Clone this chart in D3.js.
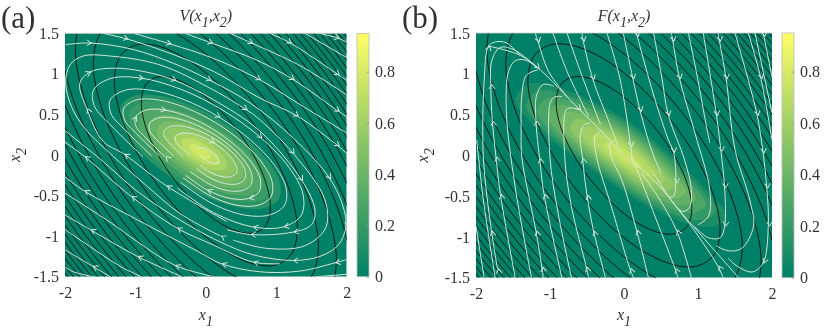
<!DOCTYPE html>
<html>
<head>
<meta charset="utf-8">
<script src="https://d3js.org/d3.v7.min.js"></script>
<style>
body { margin: 0; background: #fff; }
svg { display: block; filter: blur(0.35px); }
text { font-family: "Liberation Serif", serif; fill: #333; }
</style>
</head>
<body>
<div id="graphbody"></div>
<script>
var x1Ticks = [-2, -1, 0, 1, 2];
var x2Ticks = [-1.5, -1, -0.5, 0, 0.5, 1, 1.5];
var barTicks = [0, 0.2, 0.4, 0.6, 0.8];
var barMax = 0.95;
var barColors = ['#008066', '#ffff66'];

var ringOutline = [[-0.908,0.645],[-0.85,0.853],[-0.7,0.947],[-0.5,0.945],[-0.25,0.857],[0,0.707],[0.25,0.5],[0.5,0.235],[0.7,-0.047],[0.85,-0.355],[0.908,-0.645],[0.85,-0.853],[0.7,-0.947],[0.5,-0.945],[0.25,-0.857],[0,-0.707],[-0.25,-0.5],[-0.5,-0.235],[-0.7,0.047],[-0.85,0.355]];
var ringSizes = [1.01,1.43,1.76,2.04,2.27,2.48,2.68,2.86,3.03,3.2,3.35,3.5,3.64,3.78,3.91,4.04,4.16,4.28,4.4,4.52,4.63,4.74];

// filled bands: value shown, and size of the band edge relative to the outline
var vOutline = [[-0.877,0.461],[-0.727,0.545],[-0.467,0.545],[-0.136,0.463],[0.216,0.31],[0.536,0.109],[0.773,-0.107],[0.893,-0.307],[0.877,-0.461],[0.727,-0.545],[0.467,-0.545],[0.136,-0.463],[-0.216,-0.31],[-0.536,-0.109],[-0.773,0.107],[-0.893,0.307]];
var vBandValues = [0.15,0.22,0.3,0.38,0.46,0.54,0.62,0.7,0.78];
var vBandSizes = [1.27,1.12,0.97,0.82,0.68,0.55,0.42,0.3,0.17];
var vBandShift = [-0.08, 0.04];
var fOutline = [[-1.47,0.68],[-1.29,0.88],[-0.93,0.84],[-0.57,0.72],[-0.03,0.47],[0.51,0.1],[1.14,-0.45],[1.39,-0.75],[1.23,-0.87],[0.91,-0.85],[0.33,-0.63],[-0.3,-0.26],[-0.89,0.12],[-1.29,0.43]];
var fBandValues = [0.1,0.19,0.28,0.36,0.44,0.52,0.6,0.67,0.74];
var fBandSizes = [1,0.9,0.8,0.7,0.6,0.5,0.4,0.3,0.18];
var fBandShift = [0, 0];

// inner white loops of panel a: one loop outline, then size, centre and arrow spots of each loop
var loopOutline = [[-0.877,0.461],[-0.727,0.545],[-0.467,0.545],[-0.136,0.463],[0.216,0.31],[0.536,0.109],[0.773,-0.107],[0.893,-0.307],[0.877,-0.461],[0.727,-0.545],[0.467,-0.545],[0.136,-0.44],[-0.17,-0.26],[-0.46,-0.03],[-0.72,0.19],[-0.87,0.34]];
var loopSizes = [0.49,0.65,0.82,1,1.19,1.41,1.68];
var loopShiftX = [0,-0.02,-0.08,-0.12,-0.12,-0.12,-0.12];
var loopShiftY = [0,0,0.01,0.01,0.03,0.03,0.03];
var loopHeads = [[4],[],[],[0,2,9,11,13],[],[4],[2,5,9,10]];

// streamlines in x1,x2 units, in flow order; a third entry marks an arrow head
var vStreams = [
  [[1.6,1.5],[1.88,1.44,1],[2,1.39]],
  [[1.41,1.5],[2,1.2]],
  [[0.91,1.5],[1.2,1.38,1],[1.88,0.99,1],[2,0.92]],
  [[0.34,1.5],[0.65,1.38,1],[1.34,1.1],[2,0.74]],
  [[-0.3,1.5],[0.08,1.38,1],[0.72,1.17],[1.24,0.93,1],[1.88,0.54,1],[2,0.47]],
  [[-1.03,1.5],[-0.51,1.37,1],[0.11,1.19],[0.76,0.93,1],[1.34,0.62],[2,0.27]],
  [[-1.46,1.5],[-1.12,1.43,1],[-0.56,1.27],[0.11,1.03],[0.77,0.7],[1.3,0.48,1],[1.88,0.11,1],[2,0.02]],
  [[-2,1.36],[-1.64,1.38,1],[-1.03,1.3],[-0.46,1.13],[0.06,0.92,1],[0.63,0.64],[1.24,0.21],[1.76,-0.29,1],[1.95,-0.64],[1.99,-0.88,1],[1.88,-1.11],[1.62,-1.25],[1.23,-1.3,1],[0.67,-1.23],[0.2,-1.07],[-0.37,-0.8],[-0.97,-0.45],[-1.5,-0.05],[-2,0.3]],
  [[0.21,-1,1],[-0.37,-0.72],[-0.84,-0.38],[-1.31,-0.02],[-1.72,0.33],[-1.91,0.6],[-1.99,0.88],[-1.93,1.11],[-1.74,1.22],[-1.36,1.22],[-0.65,1.11],[0.11,0.8],[0.57,0.56,1],[0.72,0.47],[1.24,0.02,1],[1.69,-0.55],[1.7,-0.9],[1.4,-1.12],[0.86,-1.15],[0.39,-1.05]],
  [[0.3,-0.82],[-0.56,-0.38,1],[-1.16,0.01,1],[-1.46,0.17],[-1.69,0.57,1],[-1.79,0.88],[-1.65,1.02,1],[-1.31,1.07],[-0.89,1.03],[-0.44,0.92,1],[0.11,0.68],[0.76,0.3],[1.36,-0.31,1],[1.55,-0.68],[1.5,-0.86],[1.24,-0.95,1],[0.63,-0.98,1],[0.3,-0.92]],
  [[-0.13,0.08],[-0.04,0.09],[0.15,-0.02],[0.19,-0.1],[0.06,-0.09],[-0.08,-0.01]],
  [[-1.6,-1.5],[-1.88,-1.44],[-2,-1.38]],
  [[-1.36,-1.5],[-1.61,-1.37,1],[-2,-1.17]],
  [[-0.91,-1.5],[-1.2,-1.38],[-1.88,-0.99],[-2,-0.92]],
  [[-0.34,-1.5],[-0.97,-1.25,1],[-1.64,-0.92,1],[-2,-0.74]],
  [[0.11,-1.5],[-0.44,-1.36,1],[-0.97,-1.07],[-1.34,-0.84],[-2,-0.47]],
  [[2,-1.29],[1.83,-1.33,1],[1.34,-1.43],[0.77,-1.44],[0.22,-1.34,1],[-0.11,-1.19],[-0.97,-0.8],[-1.73,-0.44,1],[-2,-0.27]],
  [[1.05,-1.34],[0.67,-1.32,1],[0.11,-1.11],[-0.41,-0.9,1],[-1.06,-0.51,1],[-1.72,-0.02,1],[-2,0.16]],
  [[2,-1.47],[1.57,-1.5]]
];

var fStreams = [
  [[-1.2,1.5],[-1.16,1.39,1],[-1.02,1.03],[-0.77,0.72]],
  [[-0.96,1.5],[-0.77,1.03],[-0.48,0.48]],
  [[-0.77,1.5],[-0.59,1.03],[-0.32,0.38]],
  [[-0.57,1.5],[-0.55,1.4,1],[-0.42,0.93,1],[-0.19,0.38],[-0.08,0.11]],
  [[-0.23,1.5],[-0.05,0.92],[0.09,0.11,1],[0.11,-0.06]],
  [[-0.01,1.5],[0.12,0.94,1],[0.22,0.54,1],[0.37,0.07],[0.5,-0.22]],
  [[0.17,1.5],[0.18,1.46,1],[0.42,0.68],[0.6,0.19],[0.67,0.04,1],[0.7,-0.34,1],[0.67,-0.5],[0.62,-0.51]],
  [[0.4,1.5],[0.51,0.96],[0.6,0.49,1],[0.82,-0.06],[0.91,-0.42],[0.89,-0.63],[0.8,-0.69],[0.71,-0.64]],
  [[0.64,1.5],[0.66,1.4,1],[0.75,0.94,1],[0.96,0.27],[1.16,-0.43],[1.14,-0.75],[1,-0.85]],
  [[0.87,1.5],[1,0.92],[1.09,0.47],[1.16,0.15]],
  [[1.07,1.5],[1.25,0.49,1],[1.31,0.05,1],[1.36,-0.4,1],[1.36,-0.87,1],[1.3,-1.01],[1.14,-1.01],[0.95,-0.87]],
  [[1.27,1.5],[1.29,1.4,1],[1.38,0.94,1],[1.5,0.07],[1.7,-0.55],[1.75,-0.87],[1.59,-1.14],[1.41,-1.17],[1.25,-1.11]],
  [[1.5,1.5],[1.68,0.92],[1.8,0.49,1],[1.88,0.03,1],[1.93,-0.4,1],[1.95,-0.87,1],[1.88,-1.32,1],[1.73,-1.43],[1.5,-1.34],[1.41,-1.26]],
  [[1.68,1.5],[1.85,0.94,1],[2,0.19]],
  [[1.77,1.5],[2,0.52]],
  [[1.88,1.5],[1.89,1.46,1],[2,0.96]],
  [[-1.71,-1.39,1],[-1.79,-0.93,1],[-1.9,-0.03],[-1.89,0.91],[-1.83,1.34,1],[-1.74,1.39],[-1.59,1.38],[-1.41,1.23]],
  [[-1.47,-1.5],[-1.67,-0.48,1],[-1.73,-0.02,1],[-1.78,0.42,1],[-1.8,0.87,1],[-1.79,1.15],[-1.68,1.32],[-1.5,1.3],[-1.16,1.07]],
  [[-1.25,-1.5],[-1.47,-0.39],[-1.59,0.54],[-1.56,1.03],[-1.47,1.16],[-1.34,1.17],[-1.16,1.07]],
  [[-1.09,-1.5],[-1.11,-1.37,1],[-1.19,-0.93,1],[-1.38,-0.03],[-1.39,0.27],[-1.38,0.74],[-1.32,0.98],[-1.16,1.05]],
  [[-0.84,-1.5],[-1.08,-0.48,1],[-1.14,-0.04,1],[-1.19,0.42,1],[-1.18,0.74],[-1.09,0.87],[-0.95,0.85]],
  [[-0.71,-1.5],[-0.89,-0.71],[-1,-0.03],[-0.99,0.66],[-0.92,0.72],[-0.84,0.72]],
  [[-0.48,-1.5],[-0.51,-1.37,1],[-0.71,-0.63],[-0.8,-0.03],[-0.78,0.56],[-0.71,0.58],[-0.6,0.56]],
  [[-0.25,-1.5],[-0.41,-0.93,1],[-0.5,-0.49,1],[-0.56,-0.04,1],[-0.59,0.27],[-0.53,0.38],[-0.46,0.39]],
  [[0.13,-1.5],[0.08,-1.39,1],[-0.17,-0.63],[-0.37,-0.02],[-0.39,0.23],[-0.32,0.29]],
  [[0.33,-1.5],[0.17,-0.92,1],[-0.03,-0.3],[-0.17,-0.02],[-0.19,0.15],[-0.14,0.17]],
  [[0.73,-1.5],[0.69,-1.39,1],[0.42,-0.75],[0.15,-0.12],[0.1,-0.02]],
  [[0.91,-1.5],[0.71,-0.92,1],[0.46,-0.51],[0.24,-0.22]],
  [[1.34,-1.5],[1.27,-1.36,1],[0.91,-0.87],[0.64,-0.55],[0.4,-0.22]],
  [[1.55,-1.5],[1.16,-1.1],[0.78,-0.71],[0.42,-0.32],[0.06,-0.04]],
  [[-1.89,-1.5],[-2,-0.87]],
  [[-1.74,-1.5],[-1.9,-0.55],[-1.99,0.19]],
  [[-1.83,1.34],[-1.41,1.23],[-1.16,1.07,1],[-0.6,0.56,1],[-0.3,0.29],[-0.01,0]]
];

var width = 830;
var height = 333;
var summer = d3.scaleLinear().domain([0, barMax]).range(barColors);
var streamColor = '#dcebe0';

var svg = d3.select('#graphbody').append('svg')
  .attr('width', width)
  .attr('height', height);
var defs = svg.append('defs');

var closedCurve = d3.curveCatmullRomClosed.alpha(0.5);
var openCurve = d3.curveCatmullRom.alpha(0.5);

// a loop starts on its lower left side and stops just short of closing
var loopOrder = [13,14,15,0,1,2,3,4,5,6,7,8,9,10,11,12];
var loopStreams = loopSizes.map(function (s, i) {
  return loopOrder.map(function (k) {
    var o = loopOutline[k];
    return [o[0] * s + loopShiftX[i], o[1] * s + loopShiftY[i], loopHeads[i].indexOf(k) >= 0 ? 1 : 0];
  });
});

// lets a text carry an italic name with lowered indices
function addIndexed(sel, parts, size, subSize) {
  sel.attr('font-style', 'italic').attr('font-size', size);
  parts.forEach(function (p) {
    var isSub = p[1];
    sel.append('tspan')
      .attr('dy', p[2])
      .attr('font-size', isSub ? subSize : size)
      .text(p[0]);
  });
}

function drawPanel(id, cfg) {
  var x = d3.scaleLinear().domain([-2, 2]).range(cfg.xr);
  var y = d3.scaleLinear().domain([-1.5, 1.5]).range(cfg.yr);
  var clipId = 'clip' + id;
  defs.append('clipPath').attr('id', clipId).append('rect')
    .attr('x', cfg.xr[0]).attr('y', cfg.yr[1])
    .attr('width', cfg.xr[1] - cfg.xr[0]).attr('height', cfg.yr[0] - cfg.yr[1]);

  var g = svg.append('g');
  var plot = g.append('g').attr('clip-path', 'url(#' + clipId + ')');

  plot.append('rect')
    .attr('x', cfg.xr[0]).attr('y', cfg.yr[1])
    .attr('width', cfg.xr[1] - cfg.xr[0]).attr('height', cfg.yr[0] - cfg.yr[1])
    .attr('fill', summer(0));

  var scaled = function (outline, s, shift) {
    return d3.line().curve(closedCurve)
      .x(function (d) { return x(d[0] * s + shift[0]); })
      .y(function (d) { return y(d[1] * s + shift[1]); })(outline);
  };

  plot.selectAll('.band').data(cfg.bandSizes).enter().append('path')
    .attr('class', 'band')
    .attr('d', function (s) { return scaled(cfg.outline, s, cfg.bandShift); })
    .attr('fill', function (s, i) { return summer(cfg.bandValues[i]); });

  plot.selectAll('.ring').data(ringSizes).enter().append('path')
    .attr('class', 'ring')
    .attr('d', function (s) { return scaled(ringOutline, s, [0, 0]); })
    .attr('fill', 'none')
    .attr('stroke', '#111')
    .attr('stroke-width', 0.9);

  var streamLine = d3.line().curve(openCurve)
    .x(function (d) { return x(d[0]); })
    .y(function (d) { return y(d[1]); });

  plot.selectAll('.stream').data(cfg.streams).enter().append('path')
    .attr('class', 'stream')
    .attr('d', streamLine)
    .attr('fill', 'none')
    .attr('stroke', streamColor)
    .attr('stroke-width', 0.95);

  // arrow heads point along the line through their neighbours
  var heads = [];
  cfg.streams.forEach(function (line) {
    line.forEach(function (p, i) {
      if (!p[2]) return;
      var a = line[Math.max(i - 1, 0)];
      var b = line[Math.min(i + 1, line.length - 1)];
      heads.push({
        px: x(p[0]),
        py: y(p[1]),
        angle: Math.atan2(y(b[1]) - y(a[1]), x(b[0]) - x(a[0])) * 180 / Math.PI
      });
    });
  });
  plot.selectAll('.head').data(heads).enter().append('path')
    .attr('class', 'head')
    .attr('d', 'M-4.5,-2.8L0,0L-4.5,2.8')
    .attr('transform', function (d) { return 'translate(' + (d.px + 1) + ',' + d.py + ') rotate(' + d.angle + ')'; })
    .attr('fill', 'none')
    .attr('stroke', streamColor)
    .attr('stroke-width', 0.95);

  // axes
  var xAxis = d3.axisBottom(x).tickValues(x1Ticks).tickSize(0).tickPadding(10)
    .tickFormat(function (d) { return String(d); });
  var yAxis = d3.axisLeft(y).tickValues(x2Ticks).tickSize(0).tickPadding(6)
    .tickFormat(function (d) { return String(d); });
  var gx = g.append('g').attr('transform', 'translate(0,' + cfg.yr[0] + ')').call(xAxis);
  var gy = g.append('g').attr('transform', 'translate(' + cfg.xr[0] + ',0)').call(yAxis);
  gx.select('.domain').remove();
  gy.select('.domain').remove();
  g.selectAll('.tick text').attr('font-size', 16).attr('font-family', '"Liberation Serif", serif').attr('fill', '#333');

  g.append('path')
    .attr('d', 'M' + cfg.xr[0] + ',' + cfg.yr[1] + 'H' + cfg.xr[1])
    .attr('stroke', '#ccc').attr('stroke-width', 0.8);

  // colour bar
  var yBar = d3.scaleLinear().domain([0, barMax]).range(cfg.yr);
  var gradId = 'grad' + id;
  var grad = defs.append('linearGradient').attr('id', gradId)
    .attr('x1', 0).attr('y1', 1).attr('x2', 0).attr('y2', 0);
  grad.append('stop').attr('offset', 0).attr('stop-color', barColors[0]);
  grad.append('stop').attr('offset', 1).attr('stop-color', barColors[1]);
  g.append('rect')
    .attr('x', cfg.bar[0]).attr('y', cfg.yr[1])
    .attr('width', cfg.bar[1] - cfg.bar[0]).attr('height', cfg.yr[0] - cfg.yr[1])
    .attr('fill', 'url(#' + gradId + ')')
    .attr('stroke', '#bbb').attr('stroke-width', 0.8);
  var barAxis = d3.axisRight(yBar).tickValues(barTicks).tickSize(-2.5).tickPadding(6)
    .tickFormat(function (d) { return String(d); });
  var gb = g.append('g').attr('transform', 'translate(' + cfg.bar[1] + ',0)').call(barAxis);
  gb.select('.domain').remove();
  gb.selectAll('line').attr('stroke', '#999');
  gb.selectAll('text').attr('font-size', 16).attr('font-family', '"Liberation Serif", serif').attr('fill', '#333');

  // labels
  var cx = (cfg.xr[0] + cfg.xr[1]) / 2;
  g.append('text').attr('x', cfg.tag[0]).attr('y', cfg.tag[1])
    .attr('font-size', 31).attr('fill', '#222').text(cfg.tagText);

  var title = g.append('text').attr('x', cx).attr('y', 21).attr('text-anchor', 'middle');
  addIndexed(title, [[cfg.name + '(x', false, 0], ['1', true, 6], [',x', false, -6], ['2', true, 6], [')', false, -6]], 16, 14);

  var xl = g.append('text').attr('x', cx).attr('y', 320).attr('text-anchor', 'middle');
  addIndexed(xl, [['x', false, 0], ['1', true, 6]], 16, 14);

  var yl = g.append('text').attr('text-anchor', 'middle')
    .attr('transform', 'translate(' + cfg.yl + ',' + ((cfg.yr[0] + cfg.yr[1]) / 2) + ') rotate(-90)');
  addIndexed(yl, [['x', false, 0], ['2', true, 6]], 16, 14);
}

drawPanel('a', {
  xr: [65, 346.7], yr: [276.7, 33.3], bar: [357, 369],
  outline: vOutline, bandValues: vBandValues, bandSizes: vBandSizes, bandShift: vBandShift,
  streams: vStreams.concat(loopStreams), name: 'V', tag: [1, 28], tagText: '(a)', yl: 20
});
drawPanel('b', {
  xr: [476, 772], yr: [277.7, 33], bar: [782, 794],
  outline: fOutline, bandValues: fBandValues, bandSizes: fBandSizes, bandShift: fBandShift,
  streams: fStreams, name: 'F', tag: [402, 28], tagText: '(b)', yl: 428
});
</script>
</body>
</html>
